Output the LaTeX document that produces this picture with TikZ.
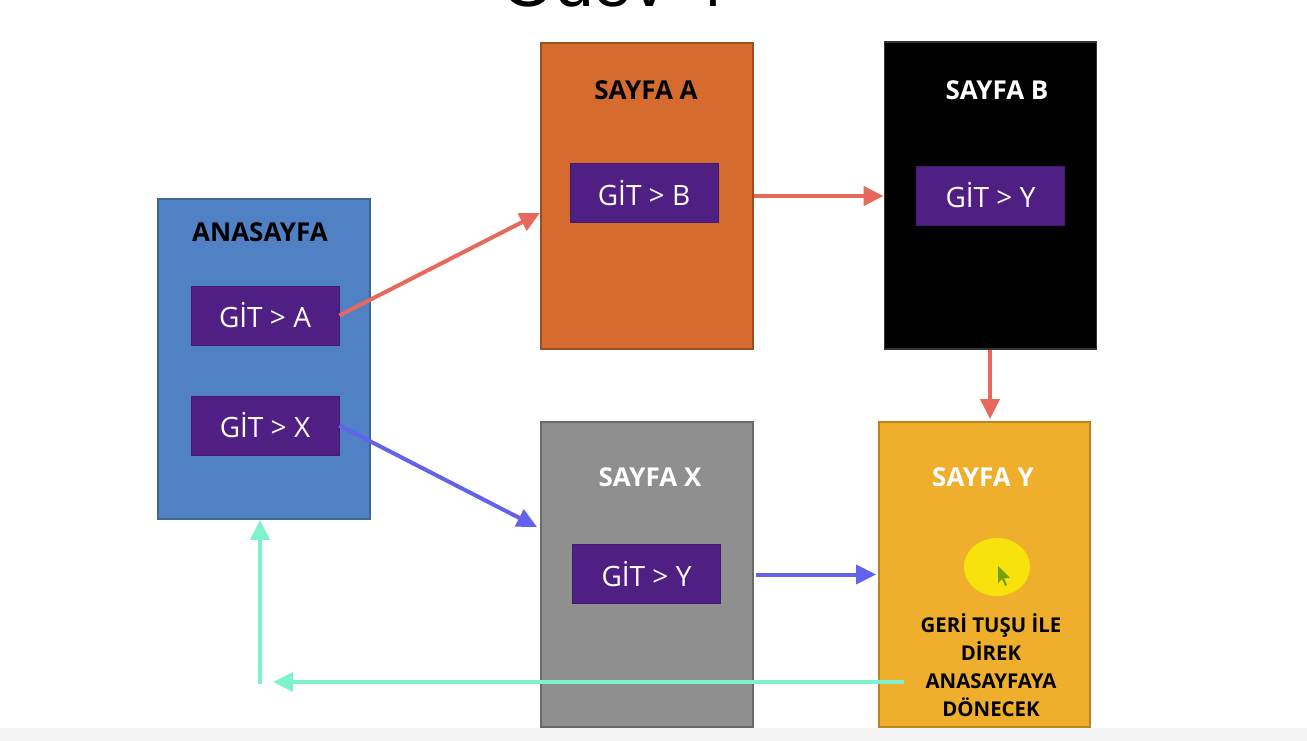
\documentclass[tikz,border=0pt]{standalone}
\usepackage{fontspec}
\setmainfont{Open Sans}
\setsansfont{Open Sans}
\newfontfamily\titlefont{Liberation Sans}
\usetikzlibrary{arrows.meta,positioning,calc,shapes.geometric}
\definecolor{anablue}{HTML}{4F81C4}
\definecolor{anaborder}{HTML}{3E6796}
\definecolor{btnpurple}{HTML}{501F84}
\definecolor{pgorange}{HTML}{D56B2E}
\definecolor{pgorangeb}{HTML}{9C4E22}
\definecolor{pggray}{HTML}{8F8F8F}
\definecolor{pggrayb}{HTML}{6A6A6A}
\definecolor{pgyellow}{HTML}{EFAF2D}
\definecolor{pgyellowb}{HTML}{B8861E}
\definecolor{spot}{HTML}{F8E20C}
\definecolor{arrred}{HTML}{E8685C}
\definecolor{arrblue}{HTML}{6262EC}
\definecolor{arrgreen}{HTML}{7EF2CB}
\definecolor{footgray}{HTML}{F3F3F3}
\tikzset{
  pagebox/.style={draw, line width=1.2pt, minimum width=212*0.75pt, inner sep=0pt},
  btnbox/.style={fill=btnpurple, draw=btnpurple!85!black, line width=0.6pt, minimum width=148*0.75pt, minimum height=59*0.75pt, inner sep=0pt, text=white, font=\fontsize{21}{24}\selectfont},
  ptitle/.style={font=\bfseries\fontsize{19.5}{22}\selectfont, inner sep=0pt},
  conn/.style={line width=3pt, -{Triangle[length=15pt,width=14pt]}},
}
\begin{document}
\begin{tikzpicture}[x=0.75pt,y=-0.75pt]
\useasboundingbox (0,0) rectangle (1307,741);
\fill[white] (0,0) rectangle (1307,741);
\fill[footgray] (0,728) rectangle (1307,741);
% title (cut off at top, as in the reference)
\node[anchor=base, inner sep=0pt, font=\titlefont\fontsize{52}{60}\selectfont] (title) at (613,7) {Ödev 4};

% pages
\node[pagebox, fill=anablue, draw=anaborder, minimum height=320*0.75pt] (ana) at (264,359) {};
\node[pagebox, fill=pgorange, draw=pgorangeb, minimum height=306*0.75pt] (pa) at (647,196) {};
\node[pagebox, fill=black, draw=black!80, minimum height=307*0.75pt] (pb) at (990.5,195.5) {};
\node[pagebox, fill=pggray, draw=pggrayb, minimum height=305*0.75pt] (px) at (647,574.5) {};
\node[pagebox, fill=pgyellow, draw=pgyellowb, minimum height=305*0.75pt, minimum width=211*0.75pt] (py) at (984.5,574.5) {};

% page titles
\node[ptitle, text=black] (anat) at (260,232) {ANASAYFA};
\node[ptitle, text=black] (pat) at (646,90) {SAYFA A};
\node[ptitle, text=white] (pbt) at (997,90) {SAYFA B};
\node[ptitle, text=white] (pxt) at (650,477) {SAYFA X};
\node[ptitle, text=white] (pyt) at (983,477) {SAYFA Y};

% buttons
\node[btnbox] (ga) at (265,315.5) {GİT > A};
\node[btnbox] (gx) at (265,425.5) {GİT > X};
\node[btnbox] (gb) at (644,193) {GİT > B};
\node[btnbox] (gy1) at (990.5,195.5) {GİT > Y};
\node[btnbox] (gy2) at (646.5,574) {GİT > Y};

% cursor spot
\node[ellipse, fill=spot, minimum width=66*0.75pt, minimum height=58*0.75pt, inner sep=0pt] (spotn) at (997,567) {};
\fill[spot!60!black!80!green] (998,566) -- (998,583) -- (1002,579) -- (1005,586) -- (1007,585) -- (1004,578) -- (1010,578) -- cycle;

% text in Y
\node[align=center, inner sep=0pt, font=\bfseries\fontsize{15.3}{21}\selectfont] (note) at (991,665) {GERİ TUŞU İLE\\DİREK\\ANASAYFAYA\\DÖNECEK};

% connectors
\coordinate (aend) at (540,213);
\draw[conn, arrred] (ga.east) -- (aend);
\draw[conn, arrred] (pa.east |- 0,196) -- (pb.west |- 0,196);
\draw[conn, arrred] (pb.south -| 990,0) -- ($(py.north)+(5.5,-2)$);
\coordinate (xend) at (537,527);
\draw[conn, arrblue] (gx.east) -- (xend);
\draw[conn, arrblue] ($(px.east)+(2,0)$) -- ($(py.west)+(-2,0)$);
\coordinate (gstart) at (904,682);
\coordinate (gend) at (273,682);
\coordinate (vstart) at (260,684);
\draw[conn, arrgreen] (gstart) -- (gend);
\draw[conn, arrgreen] (vstart) -- (ana.south -| vstart);
\end{tikzpicture}
\end{document}
